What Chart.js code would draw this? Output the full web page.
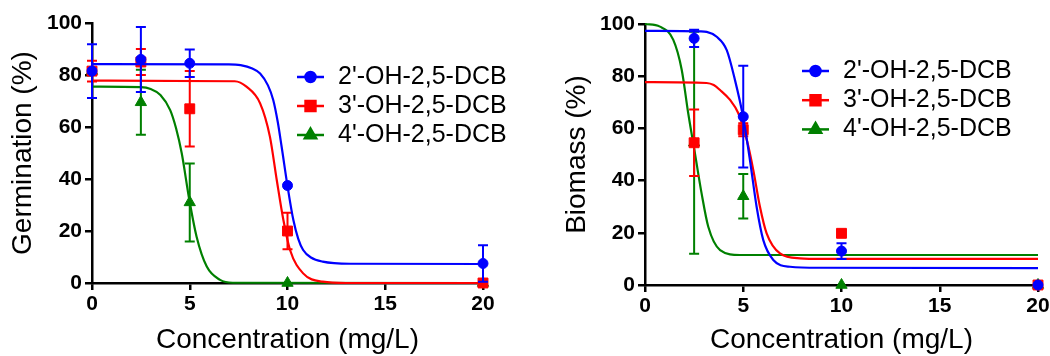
<!DOCTYPE html>
<html>
<head>
<meta charset="utf-8">
<script src="https://cdn.jsdelivr.net/npm/chart.js@4/dist/chart.umd.min.js"></script>
<style>
  html, body { margin: 0; padding: 0; background: #fff; overflow: hidden; width: 1050px; height: 356px; }
  #germBox { position: absolute; left: 0; top: 0; }
  #bioBox { position: absolute; left: 525px; top: 0; }
</style>
</head>
<body>
<div id="germBox"><canvas id="germ" width="525" height="356"></canvas></div>
<div id="bioBox"><canvas id="bio" width="545" height="356"></canvas></div>
<script>
// concentrations (mg/L)
const doses = [0, 2.5, 5, 10, 20];
const bioDoses = [2.5, 5, 10, 20];
const names = ["2'-OH-2,5-DCB", "3'-OH-2,5-DCB", "4'-OH-2,5-DCB"];
const colors = ['#0000ff', '#ff0000', '#008000'];
const markers = ['circle', 'rect', 'triangle'];
const markerSize = [5, 7, 6.5];
const xTicks = [0, 5, 10, 15, 20];
const yTicks = [0, 20, 40, 60, 80, 100];

// germination (%) mean and error
const germ2 = [81.5, 86, 84.5, 37.5, 7.5];
const germ2Err = [10.3, 12.5, 5.3, 0, 7];
const germ3 = [81.5, 85, 67, 20, 0];
const germ3Err = [4, 5, 14.5, 7, 0];
const germ4 = [81.5, 69.5, 31, 0, 0];
const germ4Err = [0, 12.5, 15, 0, 0];

// biomass (%) mean and error
const bio2 = [94.5, 64.5, 13, 0];
const bio2Err = [3.3, 19.5, 3, 0];
const bio3 = [54.5, 59.5, 19.8, 0];
const bio3Err = [12.7, 2.5, 0, 0];
const bio4 = [54.5, 34, 0, 0];
const bio4Err = [42.5, 8.5, 0, 0];

// fitted curves as [x, y]
const germFit2 = [[0, 84.2], [7, 84.1], [7.6, 83.8], [8.2, 82.5], [8.6, 80.6], [9, 76], [9.27, 70.4], [9.5, 62], [9.7, 52.4], [10, 37.3], [10.3, 24.2], [10.55, 17], [10.8, 12.7], [11.2, 9.8], [11.8, 8.2], [13.2, 7.4], [20, 7.3]];
const germFit3 = [[0, 77.8], [7.3, 77.6], [7.9, 75.5], [8.6, 69.1], [9.1, 56.3], [9.45, 39.6], [9.79, 24.2], [10.13, 12.7], [10.8, 3.7], [11.8, 0.5], [13, 0], [20, 0]];
const germFit4 = [[0, 75.5], [2.5, 75.3], [3, 74.6], [3.5, 72.3], [4, 66.5], [4.3, 59.5], [4.59, 49.9], [4.98, 31.9], [5.35, 17.8], [5.87, 6.3], [6.55, 1.2], [7.2, 0.1], [20, 0]];
const bioFit2 = [[0, 97.4], [2.8, 97.2], [3.14, 97], [3.65, 95.1], [4.16, 90], [4.58, 78.5], [4.99, 64.5], [5.34, 47.9], [5.68, 30], [6.02, 17.2], [6.53, 9.6], [7.38, 7], [8.9, 6.6], [20, 6.5]];
const bioFit3 = [[0, 77.7], [3.14, 77.4], [3.5, 76.6], [3.82, 74.7], [4.33, 70.9], [4.75, 65.8], [5.18, 55.6], [5.51, 44.1], [5.85, 30], [6.19, 19.8], [6.87, 12.1], [7.89, 10.2], [9, 10], [20, 10]];
const bioFit4 = [[0, 100], [0.76, 99], [1.44, 93.9], [1.87, 82.4], [2.2, 65.8], [2.54, 50.5], [2.88, 35.1], [3.22, 22.3], [3.82, 13.4], [4.83, 11.5], [20, 11.5]];

const FONT = "'Liberation Sans', Arial, sans-serif";
Chart.defaults.font.family = FONT;
Chart.defaults.color = '#000';

function pts(xs, ys) {
  return xs.map((x, i) => ({ x: x, y: ys[i] }));
}

function buildDatasets(xs, vals, errs, fits) {
  const out = [];
  for (let i = 0; i < 3; i++) {
    out.push({
      label: names[i],
      data: pts(xs, vals[i]),
      errors: errs[i],
      showLine: false,
      pointStyle: markers[i],
      pointRadius: markerSize[i],
      pointBackgroundColor: colors[i],
      pointBorderColor: colors[i],
      pointBorderWidth: 1,
      borderColor: colors[i],
      backgroundColor: colors[i],
      clip: false
    });
    out.push({
      label: names[i] + ' fit',
      data: fits[i].map(p => ({ x: p[0], y: p[1] })),
      showLine: true,
      pointRadius: 0,
      borderColor: colors[i],
      borderWidth: 2.2,
      cubicInterpolationMode: 'monotone',
      clip: false
    });
  }
  return out;
}

// vertical error bars with caps
const errorBars = {
  id: 'errorBars',
  afterDatasetDraw(chart, args) {
    const ds = chart.data.datasets[args.index];
    if (!ds.errors) return;
    const ctx = chart.ctx;
    const xs = chart.scales.x, ys = chart.scales.y;
    ctx.save();
    ctx.strokeStyle = ds.borderColor;
    ctx.lineWidth = 2;
    ds.data.forEach((p, i) => {
      const e = ds.errors[i];
      if (!e) return;
      const px = xs.getPixelForValue(p.x);
      const top = ys.getPixelForValue(p.y + e);
      const bot = ys.getPixelForValue(p.y - e);
      ctx.beginPath();
      ctx.moveTo(px, top); ctx.lineTo(px, bot);
      ctx.moveTo(px - 5, top); ctx.lineTo(px + 5, top);
      ctx.moveTo(px - 5, bot); ctx.lineTo(px + 5, bot);
      ctx.stroke();
    });
    ctx.restore();
  }
};

// legend drawn inside the plot, Prism style
const sideLegend = {
  id: 'sideLegend',
  afterDraw(chart, args, opts) {
    const ctx = chart.ctx;
    const items = chart.data.datasets.filter(d => d.errors);
    items.forEach((d, i) => {
      const y = opts.y + i * opts.gap;
      ctx.save();
      ctx.strokeStyle = d.borderColor;
      ctx.lineWidth = 2.5;
      ctx.beginPath();
      ctx.moveTo(opts.x, y); ctx.lineTo(opts.x + 27, y);
      ctx.stroke();
      ctx.fillStyle = d.borderColor;
      Chart.helpers.drawPoint(ctx, { pointStyle: d.pointStyle, radius: d.pointRadius, rotation: 0, borderWidth: 1 }, opts.x + 13.5, y);
      ctx.fillStyle = '#000';
      ctx.font = '25px ' + FONT;
      ctx.textBaseline = 'middle';
      ctx.textAlign = 'left';
      ctx.fillText(d.label, opts.x + 41, y);
      ctx.restore();
    });
  }
};

function makeChart(id, datasets, yTitle, pad, yTitlePad, xHeight, legendPos) {
  return new Chart(document.getElementById(id), {
    type: 'scatter',
    data: { datasets: datasets },
    options: {
      responsive: false,
      animation: false,
      events: [],
      layout: { padding: pad },
      plugins: {
        legend: { display: false },
        tooltip: { enabled: false },
        sideLegend: legendPos
      },
      scales: {
        x: {
          type: 'linear', min: 0, max: 20,
          afterBuildTicks: s => { s.ticks = xTicks.map(v => ({ value: v })); },
          afterFit: s => { s.height = xHeight; },
          grid: { drawOnChartArea: false, color: '#000', lineWidth: 2.5, tickLength: 7 },
          border: { color: '#000', width: 2.5 },
          ticks: { font: { size: 21, weight: 'bold' }, color: '#000', padding: 2, maxRotation: 0 },
          title: { display: true, text: 'Concentration (mg/L)', font: { size: 28, lineHeight: 1 }, color: '#000', padding: { top: 0, bottom: 2 } }
        },
        y: {
          type: 'linear', min: 0, max: 100,
          afterBuildTicks: s => { s.ticks = yTicks.map(v => ({ value: v })); },
          afterFit: s => { s.width = 92; },
          grid: { drawOnChartArea: false, color: '#000', lineWidth: 2.5, tickLength: 7 },
          border: { color: '#000', width: 2.5 },
          ticks: { font: { size: 21, weight: 'bold' }, color: '#000', padding: 3 },
          title: { display: true, text: yTitle, font: { size: 28, lineHeight: 1 }, color: '#000', padding: { top: yTitlePad, bottom: 0 } }
        }
      }
    },
    plugins: [errorBars, sideLegend]
  });
}

makeChart('germ',
  buildDatasets(doses, [germ2, germ3, germ4], [germ2Err, germ3Err, germ4Err], [germFit2, germFit3, germFit4]),
  'Germination (%)', { left: 0, right: 42, top: 23, bottom: 0 }, 9.3, 73, { x: 297, y: 77, gap: 29 });

makeChart('bio',
  buildDatasets(bioDoses, [bio2, bio3, bio4], [bio2Err, bio3Err, bio4Err], [bioFit2, bioFit3, bioFit4]),
  'Biomass (%)', { left: 28, right: 32, top: 24, bottom: 0 }, 10.3, 71, { x: 277, y: 71, gap: 29.2 });
</script>
</body>
</html>
